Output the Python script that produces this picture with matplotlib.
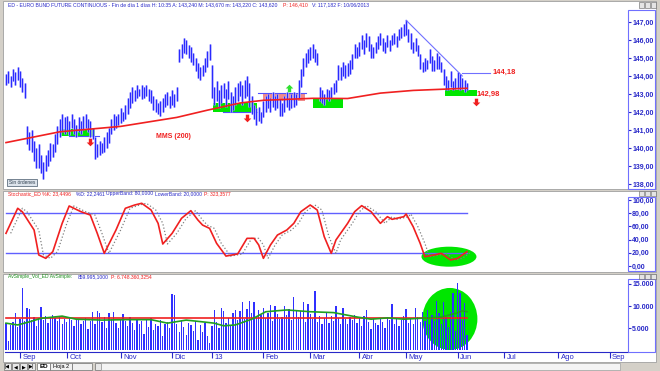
import numpy as np
import matplotlib.pyplot as plt
from matplotlib.patches import Rectangle, Ellipse
from matplotlib.transforms import blended_transform_factory

W, H = 660, 371
BLUE = '#2828c8'
RED = '#f02020'
GREEN = '#00e600'

# daily bars, ED - Euro Bund future continuous (Aug 2012 - Jun 2013)
highs = [144.1, 144.3, 144.0, 144.4, 144.2, 144.5, 144.3, 143.9, 143.6, 141.2,
         140.9, 141.0, 140.4, 140.0, 140.2, 139.6, 139.2, 139.6, 139.9, 140.3,
         140.2, 140.8, 141.2, 141.6, 141.9, 141.7, 141.8, 141.5, 141.9, 141.6,
         141.3, 141.7, 141.5, 141.8, 141.9, 141.6, 141.5, 141.1, 140.6, 140.2,
         140.4, 140.3, 140.6, 140.9, 141.1, 141.6, 141.9, 141.8, 141.9, 142.2,
         142.0, 142.4, 142.8, 143.1, 143.4, 143.2, 143.5, 143.3, 143.5, 143.4,
         143.5, 143.3, 143.2, 142.9, 142.7, 142.5, 142.6, 142.8, 143.0, 143.1,
         142.9, 143.2, 143.0, 143.4, 145.5, 145.8, 146.1, 146.0, 145.7, 145.6,
         145.3, 145.0, 144.7, 144.5, 144.6, 145.0, 145.4, 145.8, 144.6, 143.4,
         143.7, 143.2, 143.5, 143.6, 143.3, 143.7, 143.1, 142.9, 143.4, 143.6,
         143.7, 143.5, 143.8, 144.0, 143.6, 142.9, 142.4, 142.2, 142.3, 142.0,
         142.6, 142.9, 143.0, 142.8, 143.1, 142.9, 143.0, 142.7, 142.5, 142.9,
         143.1, 142.8, 143.0, 143.1, 143.0, 143.8, 144.4, 145.0, 145.3, 145.5,
         145.6, 145.8, 145.5, 145.3, 143.4, 143.2, 143.0, 143.3, 143.2, 143.4,
         143.6, 143.8, 144.6, 144.5, 144.8, 144.6, 144.7, 144.9, 145.2, 145.8,
         145.6, 145.9, 146.3, 146.0, 146.4, 146.2, 145.8, 145.6, 145.9, 146.2,
         146.4, 146.1, 145.9, 146.3, 146.0, 146.3, 146.4, 146.2, 146.6, 146.7,
         146.9, 147.1, 146.6, 146.4, 145.9, 146.1, 145.7, 145.2, 144.8, 145.0,
         144.9, 145.5, 145.1, 144.9, 145.3, 145.1, 144.8, 144.4, 144.0, 143.8,
         144.3, 143.7, 143.9, 144.2, 144.1, 143.9, 143.8, 143.6]
lows = [143.5, 143.6, 143.4, 143.7, 143.5, 143.8, 143.4, 143.1, 142.8, 140.2,
        139.9, 139.8, 139.3, 138.9, 138.9, 138.6, 138.3, 138.7, 139.0, 139.3,
        139.5, 139.8, 140.2, 140.6, 140.9, 140.8, 141.0, 140.7, 141.1, 140.8,
        140.6, 140.9, 140.8, 141.0, 141.1, 140.9, 140.6, 140.5, 139.4, 139.5,
        139.6, 139.7, 139.8, 140.0, 140.3, 140.8, 141.0, 141.1, 141.3, 141.4,
        141.5, 141.6, 141.9, 142.2, 142.5, 142.6, 142.8, 142.9, 142.7, 142.8,
        142.9, 142.6, 142.5, 142.1, 142.0, 141.9, 141.8, 142.0, 142.3, 142.4,
        142.2, 142.4, 142.3, 142.6, 144.8, 145.0, 145.3, 145.2, 145.0, 144.8,
        144.6, 144.3, 143.9, 143.8, 144.0, 144.2, 144.5, 144.9, 142.8, 142.4,
        142.6, 142.2, 142.5, 142.8, 142.3, 142.7, 142.0, 142.1, 142.4, 142.6,
        142.9, 142.4, 142.8, 142.9, 142.3, 141.9, 141.6, 141.3, 141.5, 141.4,
        141.7, 142.0, 142.2, 142.0, 142.3, 142.1, 142.2, 141.8, 141.8, 142.0,
        142.3, 142.1, 142.2, 142.3, 142.4, 142.8, 143.4, 144.0, 144.5, 144.7,
        144.9, 145.0, 144.8, 144.6, 142.6, 142.5, 142.4, 142.7, 142.6, 142.8,
        143.0, 143.1, 143.8, 143.8, 144.0, 143.9, 144.0, 144.1, 144.4, 145.0,
        145.0, 145.1, 145.5, 145.2, 145.6, 145.4, 145.0, 145.0, 145.3, 145.5,
        145.7, 145.4, 145.3, 145.6, 145.4, 145.7, 145.8, 145.6, 146.0, 146.1,
        146.2, 146.3, 145.9, 145.5, 145.3, 145.4, 145.1, 144.4, 144.2, 144.3,
        144.4, 144.7, 144.3, 144.3, 144.4, 144.4, 144.2, 143.5, 143.2, 143.2,
        143.4, 143.2, 143.3, 143.3, 143.2, 143.3, 143.1, 143.2]
# volume in thousands of contracts
volume_k = [6.1, 2.0, 5.7, 6.4, 8.3, 5.2, 7.0, 14.2, 6.5, 9.6,
            9.4, 6.8, 7.4, 5.5, 7.2, 9.8, 6.9, 7.8, 6.2, 7.5,
            8.0, 7.2, 6.5, 7.8, 5.8, 7.0, 6.3, 7.6, 6.8, 5.4,
            6.9, 7.1, 5.9, 6.6, 7.3, 4.8, 6.7, 8.7, 6.0, 8.9,
            8.4, 6.3, 7.6, 5.1, 8.3, 7.0, 8.6, 6.2, 4.9, 7.1,
            8.2, 6.6, 5.5, 7.4, 6.2, 4.5, 7.0, 5.8, 6.5, 3.6,
            6.8, 5.2, 7.2, 4.6, 6.0, 5.4, 6.9, 3.2, 5.8, 6.3,
            5.0, 12.7, 12.4, 6.0, 4.2, 6.6, 5.3, 3.4, 6.1, 5.7,
            4.4, 6.5, 2.3, 5.6, 4.0, 6.2, 3.1, 1.5, 5.4, 9.1,
            6.4, 5.0, 9.5, 8.8, 6.1, 7.3, 5.5, 8.4, 9.0, 6.8,
            8.8, 10.8, 7.0, 9.4, 11.2, 8.3, 10.9, 7.5, 9.1, 8.0,
            9.6, 7.2, 8.5, 10.2, 6.6, 9.9, 8.1, 7.0, 7.4, 10.0,
            8.0, 9.3, 6.9, 12.1, 8.8, 7.6, 8.9, 11.0, 6.3, 10.5,
            8.2, 7.0, 13.5, 6.4, 7.8, 5.9, 7.2, 8.4, 6.1, 7.7,
            6.5, 10.0, 7.3, 6.0, 9.5, 7.1, 5.8, 7.6, 6.9, 8.0,
            6.2, 7.4, 5.5, 7.8, 9.1, 6.4, 4.8, 7.0, 6.1, 5.6,
            7.2, 6.3, 5.0, 7.5, 6.8, 10.4, 6.0, 7.3, 5.4, 6.9,
            7.7, 9.3, 6.2, 7.0, 5.9, 9.5, 7.4, 6.3, 8.7, 6.6,
            9.1, 5.8, 7.9, 6.5, 11.2, 8.3, 6.0, 10.8, 7.4, 5.2,
            8.6, 12.9, 4.4, 15.3, 12.9, 6.8, 10.6, 3.5]

# MMS(200) at some bar positions
mms_idx = [0, 23, 49, 73, 86, 100, 110, 131, 146, 160, 174, 197]
mms_val = [140.3, 140.9, 141.2, 141.7, 142.1, 142.5, 142.65, 142.76, 142.75, 143.05, 143.2, 143.32]

# stochastic %K
stoch_idx = [0, 5, 7, 12, 14, 17, 20, 24, 27, 32, 36, 39, 42, 47, 51, 55, 58, 62, 65, 67,
             71, 75, 79, 82, 84, 87, 90, 94, 99, 103, 106, 108, 110, 113, 116, 120, 123, 126,
             130, 133, 136, 139, 141, 146, 149, 152, 156, 160, 163, 165, 170, 171, 174, 177,
             179, 183, 186, 190, 193, 195, 197]
stoch_k = [49.5, 87.4, 82, 54.5, 16.7, 11.6, 21.7, 64.6, 90.9, 82.3, 77.3, 49.5, 19.2, 54.5,
           87.4, 92.4, 95, 84.8, 64.6, 33.3, 49.5, 72.2, 83.8, 69.7, 62, 57, 34.3, 15, 18.2,
           41.9, 41.9, 31.8, 11.6, 31.8, 46.9, 54.5, 64.6, 82.3, 92.4, 84.8, 44.4, 19.2, 39.4,
           64.6, 82.3, 91.4, 82.3, 64.6, 74.7, 70.7, 74.7, 78.8, 59.6, 34.3, 14.1, 16.7, 19.2,
           9.1, 11.6, 16.7, 21.7]
band_hi, band_lo = 80, 20

# volume averages
vma_idx = [0, 5, 10, 15, 24, 30, 41, 51, 62, 69, 77, 84, 89, 93, 98, 105, 111, 120, 130,
           140, 150, 156, 163, 170, 177, 186, 192, 195, 197]
vma_val = [6.1, 5.7, 6.4, 7.2, 7.7, 7.0, 6.8, 6.9, 6.9, 6.1, 6.8, 6.4, 6.1, 5.5, 5.7, 7.0,
           8.7, 9.1, 8.7, 8.5, 7.5, 7.0, 7.3, 7.0, 7.2, 7.5, 8.3, 8.9, 8.7]
vlong_idx = [0, 197]
vlong_val = [7.2, 7.2]

month_labels = ['Sep', 'Oct', 'Nov', 'Dic', '13', 'Feb', 'Mar', 'Abr', 'May', 'Jun', 'Jul', 'Ago', 'Sep']
month_idx = [6, 26, 49, 71, 88, 110, 130, 151, 171, 193, 213, 236, 258]

# drawn annotations (bar index / price)
zones = [(23, 38, 140.68, 141.06, GREEN), (88.5, 107.3, 142.02, 142.52, GREEN),
         (109.8, 127.8, 142.63, 143.04, '#f08a8a'), (131.2, 144, 142.22, 142.72, GREEN),
         (187.6, 201.3, 142.89, 143.22, GREEN)]
zone_lines = [(27, 39.7, 140.67), (92.7, 107.3, 142.02), (107.7, 128.2, 143.04)]
arrows_down = ([36, 103, 201], [140.36, 141.69, 142.58])
arrows_up = ([121], [143.33])
trend_idx, trend_val = [171, 195], [147.1, 144.0]
res_idx, res_val = [195, 207], [144.18, 144.18]

idx = np.arange(len(highs))
fig = plt.figure(figsize=(6.6, 3.71), dpi=100)
fig.patch.set_facecolor('#d4d0c8')
plt.rcParams['font.family'] = ['Liberation Sans', 'DejaVu Sans']


def px_axes(y0, y1):
    ax = fig.add_axes([5 / W, 1 - y1 / H, 623 / W, (y1 - y0) / H])
    ax.set_facecolor('none')
    for s in ax.spines.values():
        s.set_visible(False)
    ax.set_xlim((5 - 6) / 2.34, (628 - 6) / 2.34)
    ax.yaxis.tick_right()
    ax.tick_params(axis='y', direction='out', length=2, width=0.8, color=BLUE, pad=1)
    ax.tick_params(axis='x', bottom=False, labelbottom=False)
    return ax


def fig_rect(x0, y0, x1, y1, **kw):
    fig.add_artist(Rectangle((x0 / W, 1 - y1 / H), (x1 - x0) / W, (y1 - y0) / H,
                             transform=fig.transFigure, **kw))


def fig_text(x, y, s, color, size=3.6, **kw):
    fig.text(x / W, 1 - y / H, s, color=color, fontsize=size, va='center', **kw)


def set_labels(ax, vals, fmt):
    ax.set_yticks(vals)
    ax.set_yticklabels([fmt(v) for v in vals], color=BLUE, fontsize=5, fontweight='bold')


# panel backgrounds
for y0, y1 in [(1, 189), (191, 272), (274, 362)]:
    fig_rect(3, y0, 656, y1, facecolor='white', edgecolor='#a0a0a0', lw=0.6, zorder=-5)
for y0, y1 in [(10, 189), (197, 271), (279, 352)]:
    fig_rect(628, y0, 655, y1, facecolor='none', edgecolor='#7070ff', lw=0.8, zorder=5)
for yb in [5, 193.5, 276.5]:
    for xb in [639, 645, 651]:
        fig_rect(xb, yb - 2.5, xb + 5, yb + 2.5, facecolor='#e4e4e4', edgecolor='#606060', lw=0.4, zorder=6)

# ---- price panel ----
ax_p = px_axes(1, 189)
ax_p.set_ylim(137.72, 148.17)
set_labels(ax_p, list(range(138, 148)), lambda v: f'{v},00')
for i0, i1, lo, hi, c in zones:
    ax_p.add_patch(Rectangle((i0, lo), i1 - i0, hi - lo, facecolor=c, edgecolor='none', zorder=1))
for i0, i1, p in zone_lines:
    ax_p.plot([i0, i1], [p, p], color='#5050ff', lw=0.8, zorder=2)
ax_p.vlines(idx, lows, highs, color='#b4b4ff', lw=1.8, zorder=2)
ax_p.vlines(idx, lows, highs, color='#2a2aff', lw=0.8, zorder=2)
ax_p.plot(mms_idx, mms_val, color=RED, lw=1.2, zorder=3)
ax_p.plot(trend_idx, trend_val, color='#7070ff', lw=0.8, zorder=3)
ax_p.plot(res_idx, res_val, color='#7070ff', lw=0.8, zorder=3)
down = [(-0.22, 0.5), (0.22, 0.5), (0.22, 0.0), (0.5, 0.0), (0, -0.5), (-0.5, 0.0), (-0.22, 0.0)]
up = [(x, -y) for x, y in down]
ax_p.scatter(*arrows_down, marker=down, s=30, color=RED, zorder=4, linewidths=0)
ax_p.scatter(*arrows_up, marker=up, s=30, color='#30e030', zorder=4, linewidths=0)
ax_p.text(64, 140.63, 'MMS (200)', color=RED, fontsize=5, fontweight='bold', va='center')
ax_p.text(208, 144.2, '144,18', color=RED, fontsize=5.5, fontweight='bold', va='center')
ax_p.text(201.3, 142.98, '142,98', color=RED, fontsize=5.5, fontweight='bold', va='center')

fig_text(8, 5, 'ED - EURO BUND FUTURE CONTINUOUS - Fin de día 1 días H: 10:35 A: 143,240 '
         'M: 143,670 m: 143,220 C: 143,620', BLUE, size=3.7)
fig_text(283, 5, 'P: 146,410', RED, size=3.7)
fig_text(312, 5, 'V: 117,182 F: 10/06/2013', BLUE, size=3.7)
fig_rect(7, 179, 37, 186, facecolor='#dde4ec', edgecolor='#607080', lw=0.6, zorder=6)
fig.text(22 / W, 1 - 182.5 / H, 'Sin órdenes', fontsize=3.5, color='#304050',
         ha='center', va='center', zorder=7)

# ---- stochastic panel ----
ax_s = px_axes(191, 272)
ax_s.set_ylim(-9.1, 113.6)
set_labels(ax_s, [0, 20, 40, 60, 80, 100], lambda v: f'{v},00')
ax_s.add_patch(Ellipse((189.3, 14.1), 23.5, 30.3, facecolor=GREEN, edgecolor='none', zorder=0.5))
ax_s.plot([0, 197], [band_hi, band_hi], color='#6060ff', lw=1.0, zorder=1)
ax_s.plot([0, 197], [band_lo, band_lo], color='#6060ff', lw=1.0, zorder=1)
ax_s.plot(np.array(stoch_idx) + 2, stoch_k, color='#808080', lw=0.9, ls=':', zorder=2)
ax_s.plot(stoch_idx, stoch_k, color=RED, lw=1.2, zorder=3)
fig_text(8, 193.5, 'Stochastic_ED %K: 23,4496', RED)
fig_text(76, 193.5, '%D: 22,2461', BLUE)
fig_text(106, 193.5, 'UpperBand: 80,0000', BLUE)
fig_text(155, 193.5, 'LowerBand: 20,0000', BLUE)
fig_text(204, 193.5, 'P: 323,3577', RED)

# ---- volume panel ----
ax_v = px_axes(274, 352)
ax_v.set_ylim(-0.45, 17.27)
set_labels(ax_v, [5, 10, 15], lambda v: f'{v * 1000:,}'.replace(',', '.'))
ax_v.add_patch(Ellipse((189.7, 7.05), 23.5, 14.1, facecolor=GREEN, edgecolor='none', zorder=1))
ax_v.bar(idx, volume_k, width=0.55, color='#3030ff', edgecolor='none', zorder=2)
ax_v.plot(vlong_idx, vlong_val, color=RED, lw=1.2, zorder=3)
ax_v.plot(vma_idx, vma_val, color='#20a020', lw=1.2, zorder=4)
ax_v.spines['bottom'].set_visible(True)
ax_v.spines['bottom'].set_color(BLUE)
ax_v.set_xticks(month_idx)
ax_v.tick_params(axis='x', bottom=True, direction='out', length=4, color=BLUE, labelbottom=False)
tr = blended_transform_factory(ax_v.transData, ax_v.transAxes)
for m, lab in zip(month_idx, month_labels):
    ax_v.text(m + 1.0, -0.07, lab, transform=tr, color=BLUE, fontsize=5.5, va='center')
fig_text(8, 276.5, 'AvSimple_Vol_ED AvSimple:', '#209020')
fig_text(78, 276.5, '859.995,1000', BLUE)
fig_text(111, 276.5, 'P: 6.748.360,3254', RED)

# ---- sheet tabs ----
for k, sym in enumerate(['|◀', '◀', '▶', '▶|']):
    fig_rect(4 + 8 * k, 363, 11 + 8 * k, 370, facecolor='#e8e8e8', edgecolor='#707070', lw=0.5)
    fig.text((7.5 + 8 * k) / W, 1 - 366.5 / H, sym, fontsize=3.5, ha='center', va='center')
fig_rect(37, 363, 50, 370, facecolor='white', edgecolor='#707070', lw=0.5)
fig.text(43.5 / W, 1 - 366.5 / H, 'ED', fontsize=4.5, fontweight='bold', ha='center', va='center')
fig_rect(50, 363, 72, 370, facecolor='#f0f0f0', edgecolor='#707070', lw=0.5)
fig.text(61 / W, 1 - 366.5 / H, 'Hoja 2', fontsize=4, ha='center', va='center')
fig_rect(72, 363, 92, 370, facecolor='#f0f0f0', edgecolor='#707070', lw=0.5)
fig_rect(95, 363, 101, 370, facecolor='#e8e8e8', edgecolor='#707070', lw=0.5)
fig_rect(101, 363, 620, 370, facecolor='#f4f4f4', edgecolor='#a0a0a0', lw=0.5)

fig.savefig('out.png', dpi=100, facecolor=fig.get_facecolor())
